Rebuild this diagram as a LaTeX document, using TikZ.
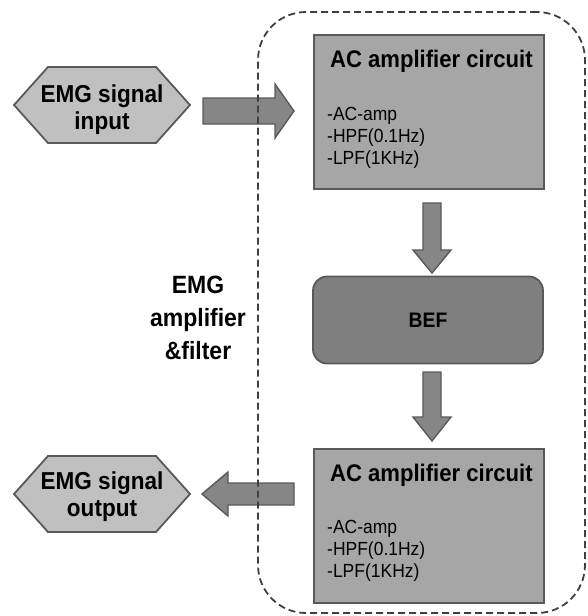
\documentclass[tikz,border=0pt]{standalone}
\usepackage{fontspec}
\setmainfont{Liberation Sans}
\newfontfamily\condfont{Liberation Sans}[FakeStretch=0.92]
\definecolor{hexfill}{HTML}{C0C0C0}
\definecolor{boxfill}{HTML}{A6A6A6}
\definecolor{beffill}{HTML}{7F7F7F}
\definecolor{arrfill}{HTML}{868686}
\definecolor{edge}{HTML}{595959}
\definecolor{dashcol}{HTML}{404040}
\begin{document}
\begin{tikzpicture}[x=1pt,y=-1pt,
  hexshape/.style={fill=hexfill,draw=edge,line width=1.8pt,line join=miter},
  acbox/.style={fill=boxfill,draw=edge,line width=2.2pt,minimum width=230pt,minimum height=154pt,anchor=north west,inner sep=0pt},
  befbox/.style={fill=beffill,draw=edge,line width=1.8pt,rounded corners=14pt,minimum width=230pt,minimum height=87pt,inner sep=0pt},
  blockarrow/.style={fill=arrfill,draw=edge,line width=1.4pt,line join=miter},
  frame/.style={draw=dashcol,line width=1.8pt,dash pattern=on 7pt off 4pt,rounded corners=48pt,minimum width=327pt,minimum height=601pt,inner sep=0pt},
  bigtxt/.style={font=\condfont\bfseries\fontsize{24}{28}\selectfont,inner sep=0pt},
  lbltxt/.style={font=\condfont\bfseries\fontsize{25}{30}\selectfont,inner sep=0pt,anchor=base},
  itemtxt/.style={font=\condfont\fontsize{19}{22}\selectfont,inner sep=0pt,anchor=base west},
  hextxt/.style={font=\condfont\bfseries\fontsize{24.5}{28}\selectfont,inner sep=0pt,anchor=base}
]
\useasboundingbox (0,0) rectangle (587,616);

% hexagons
\draw[hexshape] (14,105) -- (48,67) -- (156,67) -- (190,105) -- (156,143) -- (48,143) -- cycle;
\node[hextxt] (inA) at (102,102) {EMG signal};
\node[hextxt] (inB) at (102,129) {input};
\draw[hexshape] (14,494) -- (48,456) -- (156,456) -- (190,494) -- (156,532) -- (48,532) -- cycle;
\node[hextxt] (outA) at (102,489) {EMG signal};
\node[hextxt] (outB) at (102,516) {output};

% boxes
\node[acbox] (ac1) at (313,34) {};
\node[bigtxt,anchor=base west] (ac1t) at (330,67) {AC amplifier circuit};
\node[itemtxt] (ac1a) at (327,120) {-AC-amp};
\node[itemtxt] (ac1b) at (327,142) {-HPF(0.1Hz)};
\node[itemtxt] (ac1c) at (327,164) {-LPF(1KHz)};

\node[befbox] (bef) at (428,320) {};
\node[font=\condfont\bfseries\fontsize{21}{24}\selectfont,inner sep=0pt] (beft) at (bef.center) {BEF};

\node[acbox] (ac2) at (313,448) {};
\node[bigtxt,anchor=base west] (ac2t) at (330,481) {AC amplifier circuit};
\node[itemtxt] (ac2a) at (327,533) {-AC-amp};
\node[itemtxt] (ac2b) at (327,555) {-HPF(0.1Hz)};
\node[itemtxt] (ac2c) at (327,577) {-LPF(1KHz)};

% label
\node[lbltxt] (lblA) at (198,293) {EMG};
\node[lbltxt] (lblB) at (198,326) {amplifier};
\node[lbltxt] (lblC) at (198,359) {\&filter};

% block arrows
\draw[blockarrow] (203,98) -- (275,98) -- (275,84) -- (294,111) -- (275,138) -- (275,124) -- (203,124) -- cycle;
\draw[blockarrow] (423,203) -- (441,203) -- (441,250) -- (451,250) -- (432,273) -- (413,250) -- (423,250) -- cycle;
\draw[blockarrow] (423,372) -- (441,372) -- (441,417) -- (451,417) -- (432,441) -- (413,417) -- (423,417) -- cycle;
\draw[blockarrow] (294,483) -- (228,483) -- (228,472) -- (202,494) -- (228,516) -- (228,505) -- (294,505) -- cycle;

% dashed frame
\node[frame] (grp) at (421.5,312.5) {};
\end{tikzpicture}
\end{document}
